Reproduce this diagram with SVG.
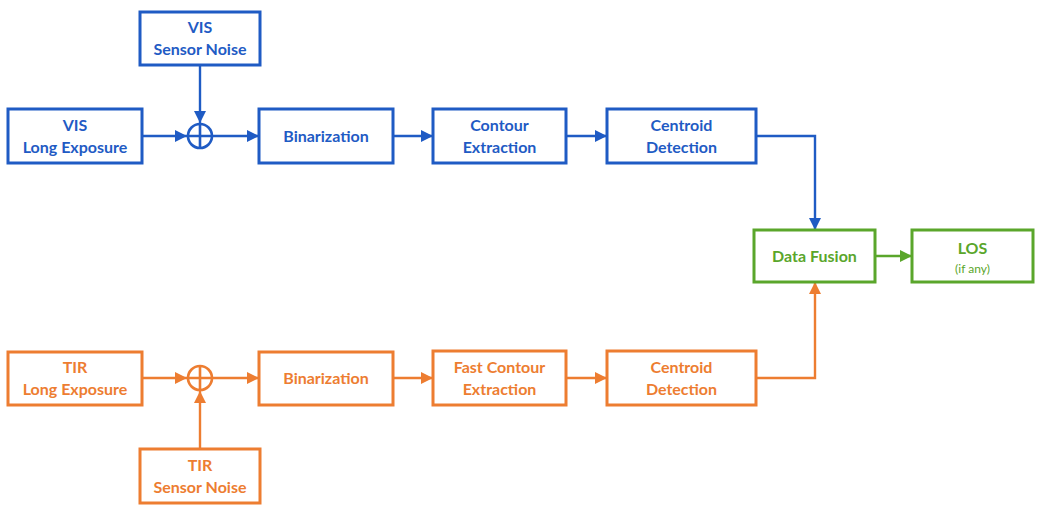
<svg xmlns="http://www.w3.org/2000/svg" width="1038" height="512" viewBox="0 0 1038 512">
  <style>
    .box { fill: #ffffff; stroke-width: 3; }
    .vis { stroke: #1f5bc4; }
    .tir { stroke: #ed7d31; }
    .out { stroke: #5aa62b; }
    .t { font-family: Lato, "Open Sans", sans-serif; font-weight: 700; font-size: 16px; text-anchor: middle; }
    .tv { fill: #1f5bc4; }
    .tt { fill: #ed7d31; }
    .tg { fill: #5aa62b; }
    .small { font-size: 12px; font-weight: 400; }
    .wire { fill: none; stroke-width: 2.4; }
    .sum { fill: #ffffff; stroke-width: 2.6; }
  </style>
  <defs>
    <marker id="ah-blue" markerUnits="userSpaceOnUse" markerWidth="13" markerHeight="13" viewBox="0 0 13 13" refX="12" refY="6.5" orient="auto">
      <path d="M0,0.5 L12,6.5 L0,12.5 Z" fill="#1f5bc4"/>
    </marker>
    <marker id="ah-orange" markerUnits="userSpaceOnUse" markerWidth="13" markerHeight="13" viewBox="0 0 13 13" refX="12" refY="6.5" orient="auto">
      <path d="M0,0.5 L12,6.5 L0,12.5 Z" fill="#ed7d31"/>
    </marker>
    <marker id="ah-green" markerUnits="userSpaceOnUse" markerWidth="13" markerHeight="13" viewBox="0 0 13 13" refX="12" refY="6.5" orient="auto">
      <path d="M0,0.5 L12,6.5 L0,12.5 Z" fill="#5aa62b"/>
    </marker>
  </defs>

  <rect width="1038" height="512" fill="#ffffff"/>

  <!-- connectors -->
  <g id="connectors">
    <g class="wire vis">
      <path d="M142,136 H187" marker-end="url(#ah-blue)"/>
      <path d="M200,65 V123" marker-end="url(#ah-blue)"/>
      <path d="M213,136 H259" marker-end="url(#ah-blue)"/>
      <path d="M393,136 H433" marker-end="url(#ah-blue)"/>
      <path d="M566,136 H607" marker-end="url(#ah-blue)"/>
      <path d="M756,136 H815 V230" marker-end="url(#ah-blue)"/>
    </g>
    <g class="wire tir">
      <path d="M142,378 H187" marker-end="url(#ah-orange)"/>
      <path d="M200,449 V391" marker-end="url(#ah-orange)"/>
      <path d="M213,378 H259" marker-end="url(#ah-orange)"/>
      <path d="M393,378 H433" marker-end="url(#ah-orange)"/>
      <path d="M566,378 H607" marker-end="url(#ah-orange)"/>
      <path d="M756,378 H815 V282" marker-end="url(#ah-orange)"/>
    </g>
    <g class="wire out">
      <path d="M875,256 H912" marker-end="url(#ah-green)"/>
    </g>
  </g>

  <!-- VIS chain -->
  <g id="vis-noise">
    <rect class="box vis" x="140" y="12" width="120" height="53"/>
    <text class="t tv" x="200" y="33">VIS</text>
    <text class="t tv" x="200" y="55">Sensor Noise</text>
  </g>
  <g id="vis-long-exposure">
    <rect class="box vis" x="8" y="109" width="134" height="54"/>
    <text class="t tv" x="75" y="131">VIS</text>
    <text class="t tv" x="75" y="153">Long Exposure</text>
  </g>
  <g id="vis-sum">
    <circle class="sum vis" cx="200" cy="136" r="12"/>
    <path class="vis" stroke-width="2.6" d="M188,136 H212 M200,124 V148"/>
  </g>
  <g id="vis-binarization">
    <rect class="box vis" x="259" y="109" width="134" height="54"/>
    <text class="t tv" x="326" y="142">Binarization</text>
  </g>
  <g id="vis-contour">
    <rect class="box vis" x="433" y="109" width="133" height="54"/>
    <text class="t tv" x="499.5" y="131">Contour</text>
    <text class="t tv" x="499.5" y="153">Extraction</text>
  </g>
  <g id="vis-centroid">
    <rect class="box vis" x="607" y="109" width="149" height="54"/>
    <text class="t tv" x="681.5" y="131">Centroid</text>
    <text class="t tv" x="681.5" y="153">Detection</text>
  </g>

  <!-- fusion and output -->
  <g id="data-fusion">
    <rect class="box out" x="754" y="230" width="121" height="52"/>
    <text class="t tg" x="814.5" y="262">Data Fusion</text>
  </g>
  <g id="los">
    <rect class="box out" x="912" y="230" width="121" height="52"/>
    <text class="t tg" x="972.5" y="254">LOS</text>
    <text class="t tg small" x="972.5" y="273">(if any)</text>
  </g>

  <!-- TIR chain -->
  <g id="tir-long-exposure">
    <rect class="box tir" x="8" y="352" width="134" height="53"/>
    <text class="t tt" x="75" y="373">TIR</text>
    <text class="t tt" x="75" y="395">Long Exposure</text>
  </g>
  <g id="tir-sum">
    <circle class="sum tir" cx="200" cy="378" r="12"/>
    <path class="tir" stroke-width="2.6" d="M188,378 H212 M200,366 V390"/>
  </g>
  <g id="tir-noise">
    <rect class="box tir" x="140" y="449" width="120" height="54"/>
    <text class="t tt" x="200" y="471">TIR</text>
    <text class="t tt" x="200" y="493">Sensor Noise</text>
  </g>
  <g id="tir-binarization">
    <rect class="box tir" x="259" y="352" width="134" height="53"/>
    <text class="t tt" x="326" y="384">Binarization</text>
  </g>
  <g id="tir-contour">
    <rect class="box tir" x="433" y="351" width="133" height="54"/>
    <text class="t tt" x="499.5" y="373">Fast Contour</text>
    <text class="t tt" x="499.5" y="395">Extraction</text>
  </g>
  <g id="tir-centroid">
    <rect class="box tir" x="607" y="351" width="149" height="54"/>
    <text class="t tt" x="681.5" y="373">Centroid</text>
    <text class="t tt" x="681.5" y="395">Detection</text>
  </g>
</svg>
